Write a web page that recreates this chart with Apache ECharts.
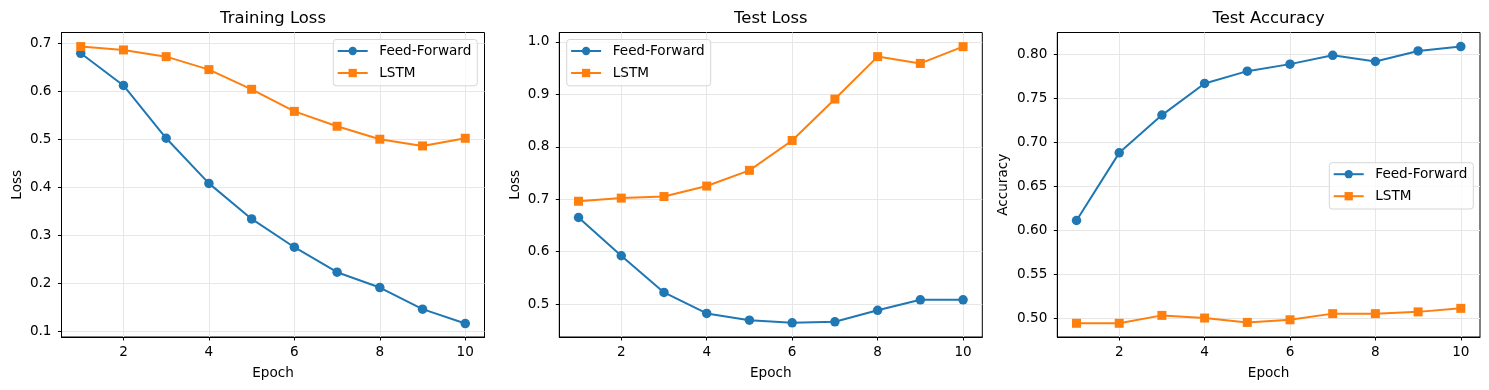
<!DOCTYPE html>
<html>
<head>
<meta charset="utf-8">
<script src="https://cdn.jsdelivr.net/npm/echarts@6/dist/echarts.min.js"></script>
<style>
  html, body { margin: 0; padding: 0; background: #fff; }
  #chart { width: 1489px; height: 390px; }
</style>
</head>
<body>
<div id="chart"></div>
<script>
// ---- data ----
const epochs = [1, 2, 3, 4, 5, 6, 7, 8, 9, 10];
const seriesNames = ['Feed-Forward', 'LSTM'];
const panelTitles = ['Training Loss', 'Test Loss', 'Test Accuracy'];
const yAxisNames = ['Loss', 'Loss', 'Accuracy'];
const xAxisName = 'Epoch';

const trainLossFF   = [0.680, 0.613, 0.503, 0.409, 0.335, 0.276, 0.224, 0.192, 0.147, 0.117];
const trainLossLSTM = [0.694, 0.687, 0.673, 0.646, 0.605, 0.559, 0.528, 0.501, 0.487, 0.503];
const testLossFF    = [0.665, 0.592, 0.522, 0.482, 0.469, 0.464, 0.466, 0.488, 0.508, 0.508];
const testLossLSTM  = [0.696, 0.702, 0.705, 0.725, 0.755, 0.812, 0.891, 0.972, 0.959, 0.991];
const testAccFF     = [0.611, 0.688, 0.731, 0.767, 0.781, 0.789, 0.799, 0.792, 0.804, 0.809];
const testAccLSTM   = [0.494, 0.494, 0.503, 0.500, 0.495, 0.498, 0.505, 0.505, 0.507, 0.511];

const xTicks = [2, 4, 6, 8, 10];
const trainLossTicks = [0.1, 0.2, 0.3, 0.4, 0.5, 0.6, 0.7];
const testLossTicks  = [0.5, 0.6, 0.7, 0.8, 0.9, 1.0];
const testAccTicks   = [0.50, 0.55, 0.60, 0.65, 0.70, 0.75, 0.80];

// ---- layout / style ----
const FONT = 'DejaVu Sans';
const FS = 13.6;
const BLUE = '#1f77b4';
const ORANGE = '#ff7f0e';
const GRIDC = '#e7e7e7';

const panels = [
  { left: 61.5,  width: 423,   yMin: 0.089, yMax: 0.7233, ticks: trainLossTicks, dec: 1, ff: trainLossFF, lstm: trainLossLSTM, nameGap: 37,
    legend: { left: 333.3, top: 39.5 } },
  { left: 559.3, width: 423,   yMin: 0.437, yMax: 1.018, ticks: testLossTicks, dec: 1, ff: testLossFF, lstm: testLossLSTM, nameGap: 37,
    legend: { left: 566.7, top: 39.5 } },
  { left: 1057.3, width: 422.7, yMin: 0.4784, yMax: 0.825, ticks: testAccTicks, dec: 2, ff: testAccFF, lstm: testAccLSTM, nameGap: 47,
    legend: { left: 1329.3, top: 162.7 } }
];
const TOP = 32.5, HEIGHT = 304.5;

const option = {
  animation: false,
  backgroundColor: '#ffffff',
  textStyle: { fontFamily: FONT },
  title: [], grid: [], xAxis: [], yAxis: [], legend: [], series: []
};

panels.forEach((p, i) => {
  option.title.push({
    text: panelTitles[i],
    left: p.left + p.width / 2,
    textAlign: 'center',
    top: 10.5,
    padding: 0,
    textStyle: { fontFamily: FONT, fontSize: 16.4, fontWeight: 'normal', color: '#000' }
  });
  option.grid.push({
    left: p.left, top: TOP, width: p.width, height: HEIGHT,
    show: true, borderColor: '#000', borderWidth: 1, backgroundColor: 'transparent'
  });
  option.xAxis.push({
    type: 'value', gridIndex: i, min: 0.55, max: 10.45,
    name: xAxisName, nameLocation: 'middle', nameGap: 29,
    nameTextStyle: { fontFamily: FONT, fontSize: FS, color: '#000' },
    axisLine: { show: true, onZero: false, lineStyle: { color: '#000', width: 1 } },
    axisTick: { show: true, inside: false, length: 3.5, customValues: xTicks, lineStyle: { color: '#000', width: 1 } },
    axisLabel: { show: true, margin: 8.5, customValues: xTicks, fontFamily: FONT, fontSize: FS, color: '#000',
      formatter: v => String(v) },
    splitLine: { show: true, lineStyle: { color: GRIDC, width: 1 } }
  });
  option.yAxis.push({
    type: 'value', gridIndex: i, min: p.yMin, max: p.yMax,
    name: yAxisNames[i], nameLocation: 'middle', nameGap: p.nameGap,
    nameTextStyle: { fontFamily: FONT, fontSize: FS, color: '#000' },
    axisLine: { show: true, onZero: false, lineStyle: { color: '#000', width: 1 } },
    axisTick: { show: true, inside: false, length: 3.5, customValues: p.ticks, lineStyle: { color: '#000', width: 1 } },
    axisLabel: { show: true, margin: 10, customValues: p.ticks, fontFamily: FONT, fontSize: FS, color: '#000',
      formatter: v => Number(v).toFixed(p.dec) },
    splitLine: { show: true, lineStyle: { color: GRIDC, width: 1 } }
  });
  option.legend.push({
    data: seriesNames,
    orient: 'vertical',
    left: p.legend.left, top: p.legend.top,
    itemWidth: 30, itemHeight: 10.4, itemGap: 8,
    padding: [4.5, 6, 5.8, 3.4],
    backgroundColor: 'rgba(255,255,255,0.8)',
    borderColor: '#d6d6d6', borderWidth: 1, borderRadius: 3,
    selectedMode: false,
    textStyle: { fontFamily: FONT, fontSize: FS, color: '#000', padding: [0, 0, 0, 6.6] }
  });
  option.series.push({
    name: seriesNames[0], type: 'line', xAxisIndex: i, yAxisIndex: i,
    data: epochs.map((e, k) => [e, p.ff[k]]),
    symbol: 'circle', symbolSize: 9.5,
    lineStyle: { color: BLUE, width: 2 }, itemStyle: { color: BLUE }
  });
  option.series.push({
    name: seriesNames[1], type: 'line', xAxisIndex: i, yAxisIndex: i,
    data: epochs.map((e, k) => [e, p.lstm[k]]),
    symbol: 'rect', symbolSize: 9,
    lineStyle: { color: ORANGE, width: 2 }, itemStyle: { color: ORANGE }
  });
});

const chart = echarts.init(document.getElementById('chart'), null, { renderer: 'canvas' });
chart.setOption(option);
</script>
</body>
</html>
